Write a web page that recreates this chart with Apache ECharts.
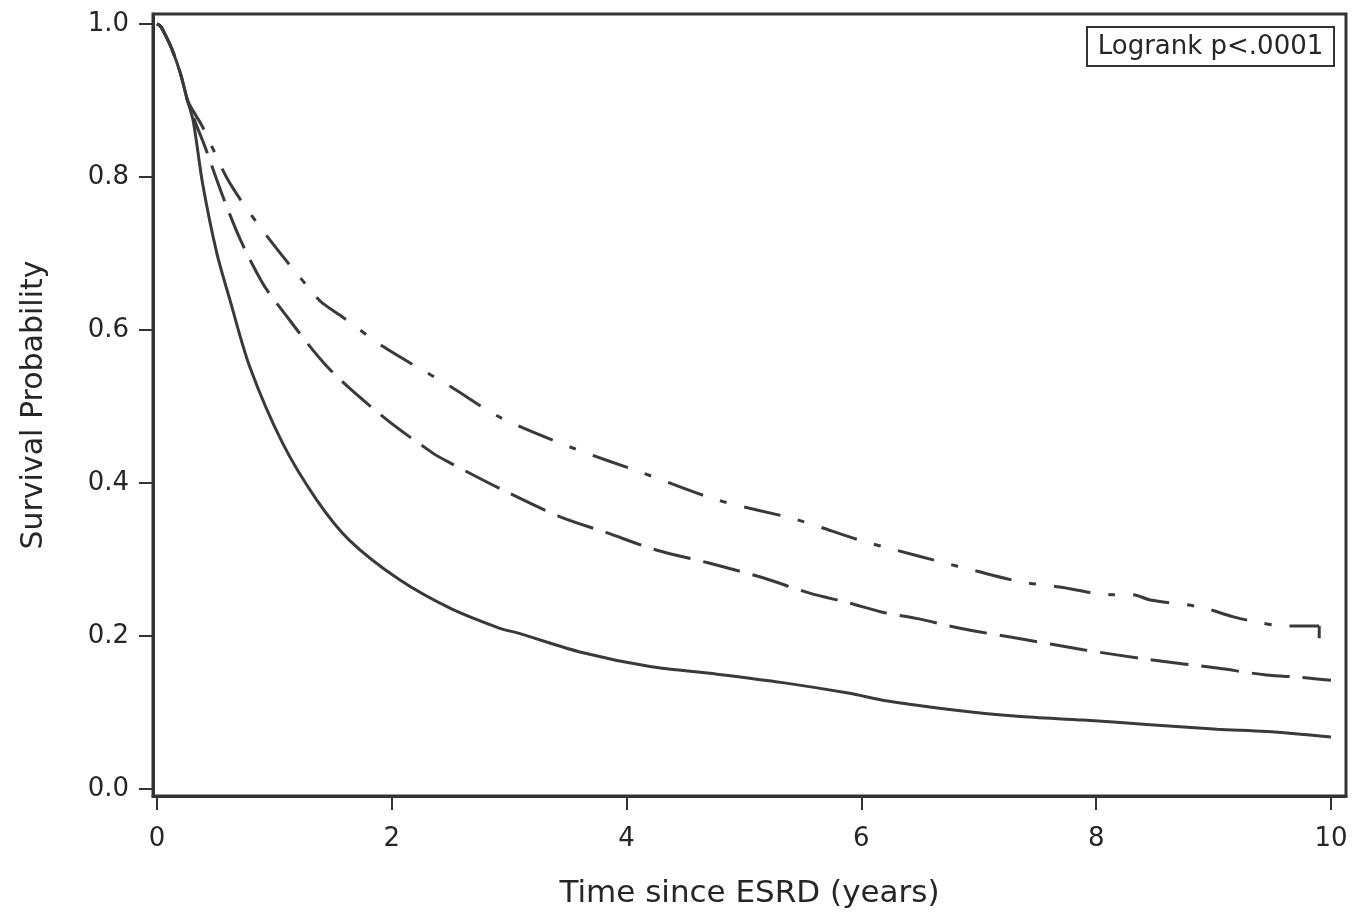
<!DOCTYPE html>
<html>
<head>
<meta charset="utf-8">
<title>Survival since ESRD</title>
<script src="https://cdn.jsdelivr.net/npm/echarts@6/dist/echarts.min.js"></script>
<style>
  html, body { margin: 0; padding: 0; background: #ffffff; }
  #chart { width: 1357px; height: 918px; }
</style>
</head>
<body>
<div id="chart"></div>
<script>
// Kaplan-Meier estimates, time in years since ESRD
const solidTime = [0, 0.03, 0.07, 0.13, 0.2, 0.26, 0.31, 0.39, 0.51, 0.62, 0.79, 1.07, 1.36, 1.64, 2.07, 2.5, 2.92, 3.07, 3.63, 4.2, 4.77, 5.33, 5.9, 6.18, 6.75, 7.33, 7.89, 8.46, 9.03, 9.45, 10.0];
const solidSurv = [1.0, 0.997, 0.986, 0.966, 0.935, 0.90, 0.872, 0.79, 0.70, 0.64, 0.552, 0.452, 0.378, 0.325, 0.273, 0.236, 0.21, 0.204, 0.178, 0.16, 0.15, 0.139, 0.125, 0.116, 0.104, 0.095, 0.09, 0.084, 0.078, 0.075, 0.068];

const dashedTime = [0, 0.03, 0.07, 0.13, 0.2, 0.26, 0.33, 0.41, 0.55, 0.71, 0.90, 1.02, 1.45, 1.93, 2.35, 2.5, 2.93, 3.43, 3.83, 4.26, 4.71, 5.14, 5.56, 5.9, 6.18, 6.47, 6.84, 7.33, 7.89, 8.46, 9.03, 9.45, 9.74, 10.0];
const dashedSurv = [1.0, 0.997, 0.986, 0.966, 0.935, 0.90, 0.87, 0.839, 0.779, 0.718, 0.661, 0.635, 0.552, 0.486, 0.439, 0.426, 0.392, 0.356, 0.335, 0.312, 0.295, 0.277, 0.256, 0.243, 0.231, 0.223, 0.21, 0.197, 0.182, 0.169, 0.158, 0.149, 0.146, 0.142];

const dashDotTime = [0, 0.03, 0.07, 0.13, 0.2, 0.26, 0.39, 0.62, 0.96, 1.33, 1.41, 1.58, 1.93, 2.5, 2.92, 3.52, 4.14, 4.77, 5.45, 5.99, 6.3, 6.67, 6.95, 7.35, 7.69, 8.12, 8.31, 8.46, 8.88, 9.17, 9.37, 9.6, 9.9, 9.9];
const dashDotSurv = [1.0, 0.997, 0.986, 0.966, 0.935, 0.90, 0.865, 0.792, 0.718, 0.648, 0.635, 0.617, 0.578, 0.526, 0.486, 0.447, 0.413, 0.378, 0.352, 0.325, 0.312, 0.297, 0.286, 0.271, 0.264, 0.254, 0.254, 0.247, 0.238, 0.225, 0.218, 0.213, 0.213, 0.197];

const xTicks = [0, 2, 4, 6, 8, 10];
const yTicks = [0, 0.2, 0.4, 0.6, 0.8, 1.0];
const xTitle = 'Time since ESRD (years)';
const yTitle = 'Survival Probability';
const testLabel = 'Logrank p<.0001';

const FONT = 'DejaVu Sans';
const INK = '#333333';
const TEXT = '#262626';
const LINE = '#3a3a3a';

function pairs(t, s) {
  return t.map((v, i) => [v, s[i]]);
}

// the dash-dot curve ends in a vertical drop at its last event time
const dashDotPairs = pairs(dashDotTime, dashDotSurv);
const dashDotBody = dashDotPairs.slice(0, -1);
const dashDotDrop = dashDotPairs.slice(-2);

const chart = echarts.init(document.getElementById('chart'), null, { renderer: 'canvas' });

const curveBase = {
  type: 'line', showSymbol: false, symbol: 'none', clip: true,
  smooth: 0.3
};

chart.setOption({
  animation: false,
  backgroundColor: '#ffffff',
  grid: {
    left: 153, right: 11, top: 14, bottom: 122,
    show: true, borderColor: INK, borderWidth: 3, backgroundColor: 'transparent'
  },
  xAxis: {
    type: 'value',
    min: -0.034, max: 10.128,
    axisLine: { show: true, onZero: false, lineStyle: { color: INK, width: 3 } },
    splitLine: { show: false },
    axisTick: {
      show: true, customValues: xTicks, length: 14, inside: false,
      lineStyle: { color: INK, width: 2 }
    },
    axisLabel: {
      customValues: xTicks, margin: 30,
      fontFamily: FONT, fontSize: 26, color: TEXT,
      formatter: v => String(Math.round(v))
    },
    name: xTitle,
    nameLocation: 'middle',
    nameGap: 82,
    nameTextStyle: { fontFamily: FONT, fontSize: 31, color: TEXT }
  },
  yAxis: {
    type: 'value',
    min: -0.0092, max: 1.013,
    axisLine: { show: true, onZero: false, lineStyle: { color: INK, width: 3 } },
    splitLine: { show: false },
    axisTick: {
      show: true, customValues: yTicks, length: 14, inside: false,
      lineStyle: { color: INK, width: 2 }
    },
    axisLabel: {
      customValues: yTicks, margin: 24,
      fontFamily: FONT, fontSize: 26, color: TEXT,
      formatter: v => v.toFixed(1)
    },
    name: yTitle,
    nameLocation: 'middle',
    nameGap: 104,
    nameRotate: 90,
    nameTextStyle: { fontFamily: FONT, fontSize: 30, color: TEXT }
  },
  graphic: [
    {
      type: 'group',
      right: 22, top: 26,
      children: [
        {
          type: 'rect',
          shape: { x: 0, y: 0, width: 247, height: 39 },
          style: { fill: '#ffffff', stroke: INK, lineWidth: 2 }
        },
        {
          type: 'text',
          x: 123.5, y: 20,
          style: {
            text: testLabel, fontFamily: FONT, fontSize: 26, fill: TEXT,
            align: 'center', verticalAlign: 'middle'
          }
        }
      ]
    }
  ],
  series: [
    Object.assign({}, curveBase, {
      data: pairs(solidTime, solidSurv),
      lineStyle: { color: LINE, width: 3, type: 'solid' }
    }),
    Object.assign({}, curveBase, {
      data: pairs(dashedTime, dashedSurv),
      lineStyle: { color: LINE, width: 3, type: [38, 13], cap: 'butt' }
    }),
    Object.assign({}, curveBase, {
      data: dashDotBody,
      lineStyle: { color: LINE, width: 3, type: [37, 18, 7, 18], cap: 'butt' }
    }),
    {
      type: 'line', showSymbol: false, symbol: 'none', clip: true,
      data: dashDotDrop,
      lineStyle: { color: LINE, width: 3, type: 'solid' }
    }
  ]
});
</script>
</body>
</html>
